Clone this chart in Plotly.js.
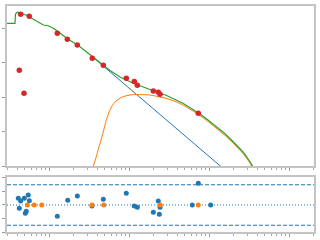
<!DOCTYPE html>
<html><head><meta charset="utf-8">
<script src="https://cdn.plot.ly/plotly-3.0.1.min.js"></script>
<style>html,body{margin:0;padding:0;background:#fff}#c{width:320px;height:240px}</style>
</head><body><div id="c"></div>
<script>
// values stored as log10 exponents (both axes are logarithmic)
const dataLogX = [-0.354,-0.246,0.104,0.229,0.354,0.541,0.679,0.966,1.066,1.104,1.304,1.366,1.388,1.866,-0.371,-0.3125];
const dataLogY = [4.410,4.352,3.858,3.683,3.517,3.131,2.927,2.549,2.456,2.346,2.180,2.142,2.084,1.532,2.782,2.113];

const totalLogX = [-0.525,-0.425,-0.419,-0.394,-0.3625,-0.3125,-0.259,-0.216,-0.15,-0.071,-0.009,0.054,0.1375,0.221,0.3875,0.554,0.6375,0.7625,0.8875,1.054,1.2625,1.471,1.679,1.8875,1.9875,2.1,2.2,2.3,2.3625,2.425,2.4625,2.4875,2.5125,2.5375,2.556,2.569];
const totalLogY = [4.148,4.148,4.419,4.477,4.439,4.404,4.369,4.294,4.201,4.099,4.078,4.003,3.866,3.712,3.468,3.160,3.009,2.776,2.587,2.404,2.224,2.049,1.817,1.512,1.337,1.140,0.939,0.712,0.567,0.407,0.297,0.218,0.125,0.029,-0.058,-0.174];

const bbLogX = [0.544,0.554,0.575,0.6,0.6375,0.675,0.7125,0.75,0.7875,0.8375,0.9,0.975,1.05,1.1375,1.225,1.3,1.3875,1.475,1.575,1.675,1.775,1.8875,1.9875,2.1,2.2,2.3,2.3625,2.425,2.4625,2.4875,2.5125,2.5375,2.55];
const bbLogY = [-0.174,0,0.145,0.349,0.610,0.959,1.308,1.570,1.744,1.890,1.991,2.049,2.076,2.084,2.073,2.049,2.012,1.962,1.881,1.773,1.634,1.468,1.294,1.090,0.887,0.669,0.523,0.363,0.253,0.174,0.081,-0.029,-0.174];

const plLogX = [0.575,2.2];
const plLogY = [3.110,-0.116];

const resBlueLogX = [-0.384,-0.354,-0.309,-0.259,-0.246,-0.371,-0.284,-0.296,0.104,0.234,0.354,0.5375,0.679,0.966,1.066,1.104,1.366,1.388,1.304,1.379,1.791,1.866,2.021];
const resBlueY    = [0.50,0.30,0.50,0.74,0.32,-0.24,-0.47,-0.61,-0.84,0.35,0.67,-0.07,0.42,0.87,-0.07,-0.17,0.30,-0.17,-0.54,-0.69,0,1.61,0];
const resOrangeLogX = [-0.271,-0.184,-0.091,0.5375,0.684,1.391,1.866];
const resOrangeY    = [0,0,0,0,0,0,0];

const p = a => a.map(v => Math.pow(10, v));

const traces = [
  {x:p(plLogX), y:p(plLogY), mode:'lines', line:{color:'#1f77b4', width:1}, xaxis:'x', yaxis:'y'},
  {x:p(bbLogX), y:p(bbLogY), mode:'lines', line:{color:'#ff7f0e', width:1}, xaxis:'x', yaxis:'y'},
  {x:p(totalLogX), y:p(totalLogY), mode:'lines', line:{color:'#2ca02c', width:1.2}, xaxis:'x', yaxis:'y'},
  {x:p(dataLogX), y:p(dataLogY), mode:'markers', marker:{color:'#d62728', size:5.5}, xaxis:'x', yaxis:'y'},
  {x:p(resBlueLogX), y:resBlueY, mode:'markers', marker:{color:'#1f77b4', size:5}, xaxis:'x2', yaxis:'y2'},
  {x:p(resOrangeLogX), y:resOrangeY, mode:'markers', marker:{color:'#ff7f0e', size:5}, xaxis:'x2', yaxis:'y2'}
];

const spine = {showline:true, mirror:true, linecolor:'#c4c4c4', linewidth:2, showgrid:false, zeroline:false, showticklabels:false, ticks:'outside', ticklen:3, tickcolor:'#999', tickwidth:1};
const xax = Object.assign({}, spine, {type:'log', range:[-0.525,3.3125], dtick:1, minor:{ticks:'outside', ticklen:2, tickcolor:'#aaa', dtick:'D1', showgrid:false}});

const layout = {
  width:320, height:240, margin:{l:7, r:6, t:6, b:8},
  paper_bgcolor:'#fff', plot_bgcolor:'#fff', showlegend:false,
  xaxis: Object.assign({}, xax, {domain:[0,1], anchor:'y'}),
  yaxis: Object.assign({}, spine, {type:'log', range:[0,4.651], dtick:1, domain:[0.292,1], anchor:'x'}),
  xaxis2: Object.assign({}, xax, {domain:[0,1], anchor:'y2', matches:'x'}),
  yaxis2: Object.assign({}, spine, {range:[-2.0,2.074], tickvals:[-2,-1,0,1,2], domain:[0,0.2434], anchor:'x2'}),
  shapes:[
    {type:'line', xref:'x2 domain', x0:0, x1:1, yref:'y2', y0:1.5, y1:1.5, line:{color:'#1f77b4', width:1, dash:'4px,2px'}, layer:'below'},
    {type:'line', xref:'x2 domain', x0:0, x1:1, yref:'y2', y0:-1.5, y1:-1.5, line:{color:'#1f77b4', width:1, dash:'4px,2px'}, layer:'below'},
    {type:'line', xref:'x2 domain', x0:0, x1:1, yref:'y2', y0:0, y1:0, line:{color:'#1f77b4', width:1, dash:'1px,2px'}, layer:'below'}
  ]
};
Plotly.newPlot('c', traces, layout, {staticPlot:true});
</script></body></html>
